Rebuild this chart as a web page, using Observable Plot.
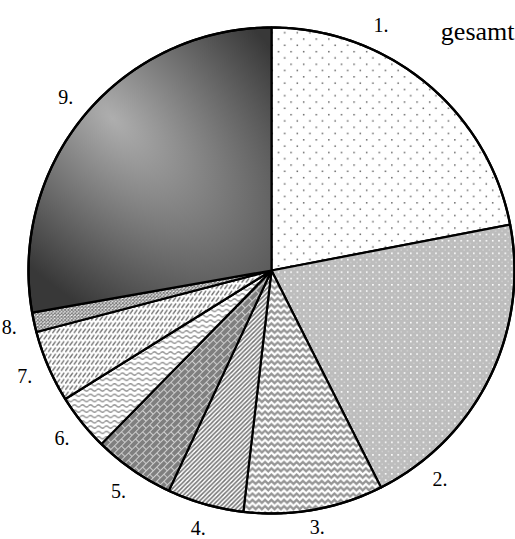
<!DOCTYPE html>
<html><head><meta charset="utf-8">
<script src="https://cdn.jsdelivr.net/npm/d3@7"></script>
<script src="https://cdn.jsdelivr.net/npm/@observablehq/plot@0.6"></script>
<style>html,body{margin:0;padding:0;background:#fff;} svg{display:block}</style>
</head><body><div id="chart"></div>
<script>
// ---- data ----
const categories = ["1.", "2.", "3.", "4.", "5.", "6.", "7.", "8.", "9."];
const shares = [22.0, 20.6, 9.3, 5.1, 5.4, 3.8, 4.8, 1.3, 27.8];
const chartTitle = "gesamt";

// ---- styles (fill per slice) ----
const fills = ["url(#p1)", "url(#p2)", "url(#p3)", "url(#p4)", "url(#p5)", "url(#p6)", "url(#p7)", "url(#p8)", "url(#g9)"];
// label placement nudges where the labels were moved off the mid-angle
const labelShiftDeg = {"1.": -15.5, "2.": 25};
const labelRadiusShift = {"3.": -0.03};
const labelRadius = 1.105;

const arcs = d3.pie().sort(null).value(d => d)(shares);
const pt = a => [Math.sin(a), -Math.cos(a)];
const slices = arcs.map((a, i) => {
  const n = Math.max(2, Math.ceil((a.endAngle - a.startAngle) / (Math.PI / 360)));
  const ring = [[0, 0]];
  for (let k = 0; k <= n; k++) ring.push(pt(a.startAngle + (a.endAngle - a.startAngle) * k / n));
  ring.push([0, 0]);
  return {type: "Feature", properties: {cat: categories[i], fill: fills[i]}, geometry: {type: "Polygon", coordinates: [ring]}};
});
const circleRing = d3.range(0, 361).map(k => pt(k * Math.PI / 180));
const circle = {type: "Polygon", coordinates: [circleRing]};

const labels = arcs.map((a, i) => {
  const c = categories[i];
  const mid = (a.startAngle + a.endAngle) / 2 + (labelShiftDeg[c] || 0) * Math.PI / 180;
  const r = labelRadius + (labelRadiusShift[c] || 0);
  const [x, y] = pt(mid);
  return {x: x * r, y: y * r, text: c};
});

const svg = Plot.plot({
  width: 515, height: 539,
  marginLeft: 28, marginRight: 1, marginTop: 27, marginBottom: 26,
  projection: {type: "identity", domain: circle, clip: false},
  color: {type: "identity"},
  marks: [
    Plot.geo(slices, {fill: d => d.properties.fill, stroke: "black", strokeWidth: 2.2, strokeLinejoin: "round"}),
    Plot.geo(circle, {fill: "none", stroke: "black", strokeWidth: 2.4}),
    Plot.text(labels, {x: "x", y: "y", text: "text", fontSize: 20, fontFamily: "Liberation Serif", fill: "black"}),
    Plot.text([chartTitle], {frameAnchor: "top-right", lineAnchor: "bottom", dy: 12, fontSize: 26, fontFamily: "Liberation Serif", fill: "black", textAnchor: "end"})
  ]
});

svg.insertAdjacentHTML("afterbegin", `<defs>
<pattern id="p1" patternUnits="userSpaceOnUse" width="12.6" height="12.6">
  <rect width="12.6" height="12.6" fill="#fff"/>
  <rect x="0" y="0" width="1.5" height="1.5" fill="#666"/>
  <rect x="6.3" y="6.3" width="1.5" height="1.5" fill="#666"/>
</pattern>
<pattern id="p2" patternUnits="userSpaceOnUse" width="6.3" height="6.3">
  <rect width="6.3" height="6.3" fill="#bdbdbd"/>
  <rect x="0" y="0" width="1.6" height="1.6" fill="#fff"/>
  <rect x="3.15" y="3.15" width="1.2" height="1.2" fill="#dedede"/>
</pattern>
<pattern id="p3" patternUnits="userSpaceOnUse" width="12.6" height="6.3">
  <rect width="12.6" height="6.3" fill="#fff"/>
  <path d="M-3.15,4.7 L0,1.6 L3.15,4.7 L6.3,1.6 L9.45,4.7 L12.6,1.6 L15.75,4.7" fill="none" stroke="#959595" stroke-width="2.2"/>
</pattern>
<pattern id="p4" patternUnits="userSpaceOnUse" width="4.4" height="4.4">
  <rect width="4.4" height="4.4" fill="#fff"/>
  <path d="M-1,1 L1,-1 M0,4.4 L4.4,0 M3.4,5.4 L5.4,3.4" stroke="#737373" stroke-width="1.5"/>
</pattern>
<pattern id="p5" patternUnits="userSpaceOnUse" width="10" height="10" patternTransform="rotate(-45)">
  <rect width="10" height="10" fill="#7f7f7f"/>
  <path d="M0,0.5 H10 M0,5.5 H10 M0.5,0.5 V5.5 M5.5,5.5 V10.5" stroke="#cfcfcf" stroke-width="1.1" fill="none"/>
</pattern>
<pattern id="p6" patternUnits="userSpaceOnUse" width="8" height="5.3">
  <rect width="8" height="5.3" fill="#fff"/>
  <path d="M0,2.65 Q2,0.5 4,2.65 T8,2.65" fill="none" stroke="#8a8a8a" stroke-width="1.2"/>
</pattern>
<pattern id="p7" patternUnits="userSpaceOnUse" width="4.3" height="6.3">
  <rect width="4.3" height="6.3" fill="#fff"/>
  <path d="M0.7,4.5 L3.2,1" stroke="#737373" stroke-width="1.4" stroke-linecap="round"/>
</pattern>
<pattern id="p8" patternUnits="userSpaceOnUse" width="3.4" height="3.4">
  <rect width="3.4" height="3.4" fill="#fff"/>
  <path d="M0,0 L3.4,3.4 M3.4,0 L0,3.4" stroke="#7e7e7e" stroke-width="1.1"/>
</pattern>
<radialGradient id="g9" gradientUnits="userSpaceOnUse" cx="0" cy="0" r="165" gradientTransform="translate(112,118) rotate(45) scale(1.9,1)">
  <stop offset="0" stop-color="#aeaeae"/>
  <stop offset="1" stop-color="#383838"/>
</radialGradient>
</defs>`);

document.getElementById("chart").appendChild(svg);
</script>
</body></html>
